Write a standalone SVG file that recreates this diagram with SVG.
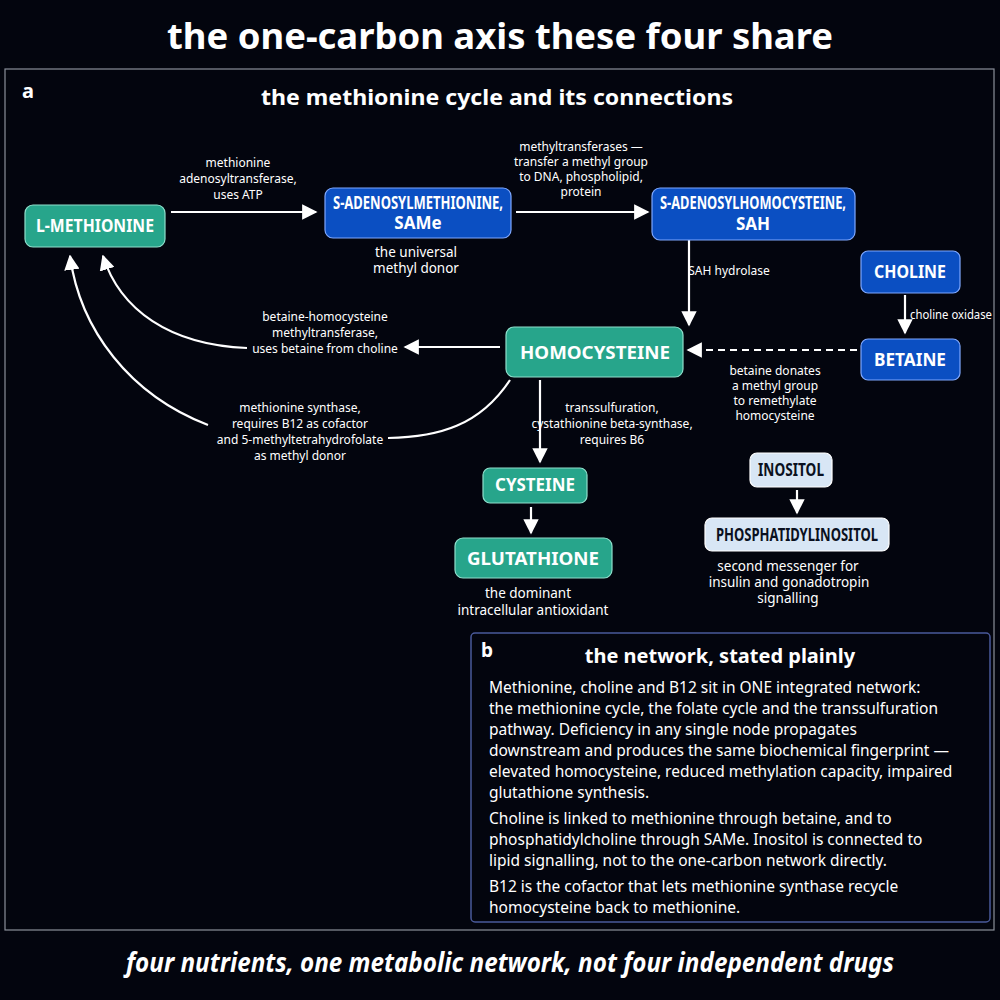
<svg xmlns="http://www.w3.org/2000/svg" width="1000" height="1000" viewBox="0 0 1000 1000">
<defs>
<marker id="ah" viewBox="0 0 10 10" refX="9" refY="5" markerWidth="7" markerHeight="7" orient="auto-start-reverse"><path d="M0,0 L10,5 L0,10 z" fill="#fff"/></marker>
<style>
text{font-family:"Noto Sans","DejaVu Sans",sans-serif;fill:#fff}
.t{font-weight:bold;text-anchor:middle}
.n{font-size:17px;font-weight:bold;text-anchor:middle}
.lb{font-size:12px;text-anchor:middle}
.sub{font-size:13.5px;text-anchor:middle}
.teal{fill:#27a58b;stroke:#8fe0cc;stroke-width:1.2}
.blue{fill:#0b4fc2;stroke:#7fa8ff;stroke-width:1.2}
.light{fill:#d8e6f5;stroke:#fff;stroke-width:1.2}
.c{stroke:#fff;stroke-width:2.2;fill:none;marker-end:url(#ah)}
.b{font-size:15.5px}
</style>
</defs>
<rect width="1000" height="1000" fill="#03050e"/>
<text class="t" x="500" y="49" font-size="35" textLength="666" lengthAdjust="spacingAndGlyphs">the one-carbon axis these four share</text>
<rect x="5" y="69" width="989" height="861" fill="none" stroke="#8a8f9a" stroke-width="1.2"/>
<text x="22" y="98" font-size="20" font-weight="bold">a</text>
<text class="t" x="497" y="105" font-size="22" textLength="472" lengthAdjust="spacingAndGlyphs">the methionine cycle and its connections</text>

<g id="connectors">
<path class="c" d="M171,212 H316"/>
<path class="c" d="M516,212 H648"/>
<path class="c" d="M689,240 V325"/>
<path class="c" d="M905,295 V333"/>
<path class="c" d="M857,350 H688" stroke-dasharray="7,5"/>
<path class="c" d="M500,347 H405"/>
<path class="c" d="M247,348 C170,345 120,310 103,256"/>
<path d="M510,380 C480,425 440,437 388,438" stroke="#fff" stroke-width="2.2" fill="none"/>
<path class="c" d="M208,425 C130,395 80,330 70,256"/>
<path class="c" d="M540,380 V462"/>
<path class="c" d="M531,507 V533"/>
<path class="c" d="M797,490 V513"/>
</g>
<g id="labels">
<text class="lb" x="238" y="167">methionine</text>
<text class="lb" x="238" y="183">adenosyltransferase,</text>
<text class="lb" x="238" y="199">uses ATP</text>
<text class="lb" x="581" y="151">methyltransferases —</text>
<text class="lb" x="581" y="166">transfer a methyl group</text>
<text class="lb" x="581" y="181">to DNA, phospholipid,</text>
<text class="lb" x="581" y="196">protein</text>
<text class="lb" x="729" y="275">SAH hydrolase</text>
<text class="lb" x="951" y="319" textLength="82" lengthAdjust="spacingAndGlyphs">choline oxidase</text>
<text class="lb" x="775" y="375">betaine donates</text>
<text class="lb" x="775" y="390">a methyl group</text>
<text class="lb" x="775" y="405">to remethylate</text>
<text class="lb" x="775" y="420">homocysteine</text>
<text class="lb" x="325" y="321">betaine-homocysteine</text>
<text class="lb" x="325" y="337">methyltransferase,</text>
<text class="lb" x="325" y="353">uses betaine from choline</text>
<text class="lb" x="300" y="412">methionine synthase,</text>
<text class="lb" x="300" y="428">requires B12 as cofactor</text>
<text class="lb" x="300" y="444">and 5-methyltetrahydrofolate</text>
<text class="lb" x="300" y="460">as methyl donor</text>
<text class="lb" x="612" y="412">transsulfuration,</text>
<text class="lb" x="612" y="428">cystathionine beta-synthase,</text>
<text class="lb" x="612" y="444">requires B6</text>
</g>

<g id="lmet"><rect class="teal" x="25" y="205" width="140" height="42" rx="8"/><text class="n" x="95" y="232" textLength="118" lengthAdjust="spacingAndGlyphs">L-METHIONINE</text></g>
<g id="same"><rect class="blue" x="325" y="188" width="186" height="50" rx="8"/><text class="n" x="418" y="209" font-size="14.5" textLength="170" lengthAdjust="spacingAndGlyphs">S-ADENOSYLMETHIONINE,</text><text class="n" x="418" y="229" font-size="14.5">SAMe</text>
<text class="sub" x="416" y="257">the universal</text><text class="sub" x="416" y="273">methyl donor</text></g>
<g id="sah"><rect class="blue" x="652" y="188" width="203" height="52" rx="8"/><text class="n" x="753" y="209" font-size="14.5" textLength="186" lengthAdjust="spacingAndGlyphs">S-ADENOSYLHOMOCYSTEINE,</text><text class="n" x="753" y="230" font-size="14.5">SAH</text></g>
<g id="choline"><rect class="blue" x="861" y="251" width="99" height="42" rx="7"/><text class="n" x="910" y="278" textLength="72" lengthAdjust="spacingAndGlyphs">CHOLINE</text></g>
<g id="betaine"><rect class="blue" x="861" y="339" width="99" height="41" rx="7"/><text class="n" x="910" y="366" textLength="72" lengthAdjust="spacingAndGlyphs">BETAINE</text></g>
<g id="hcy"><rect class="teal" x="506" y="327" width="177" height="50" rx="8"/><text class="n" x="595" y="359" textLength="150" lengthAdjust="spacingAndGlyphs">HOMOCYSTEINE</text></g>
<g id="cys"><rect class="teal" x="483" y="468" width="104" height="35" rx="7"/><text class="n" x="535" y="491" textLength="80" lengthAdjust="spacingAndGlyphs">CYSTEINE</text></g>
<g id="glu"><rect class="teal" x="455" y="538" width="157" height="40" rx="8"/><text class="n" x="533" y="565" font-size="19" textLength="132" lengthAdjust="spacingAndGlyphs">GLUTATHIONE</text>
<text class="sub" x="528" y="598">the dominant</text><text class="sub" x="533" y="615">intracellular antioxidant</text></g>
<g id="inositol"><rect class="light" x="750" y="453" width="82" height="34" rx="7"/><text class="n" x="791" y="476" font-size="15" style="fill:#0a1020" textLength="66" lengthAdjust="spacingAndGlyphs">INOSITOL</text></g>
<g id="pi"><rect class="light" x="705" y="518" width="184" height="33" rx="7"/><text class="n" x="797" y="541" font-size="14.5" style="fill:#0a1020" textLength="162" lengthAdjust="spacingAndGlyphs">PHOSPHATIDYLINOSITOL</text>
<text class="sub" x="788" y="571">second messenger for</text><text class="sub" x="789" y="587">insulin and gonadotropin</text><text class="sub" x="788" y="603">signalling</text></g>

<g id="panel-b">
<rect x="471" y="633" width="519" height="289" rx="4" fill="#03050e" stroke="#4a5a9a" stroke-width="1.5"/>
<text x="481" y="657" font-size="19" font-weight="bold">b</text>
<text class="t" x="720" y="663" font-size="20">the network, stated plainly</text>
<text class="b" x="489" y="693">Methionine, choline and B12 sit in ONE integrated network:</text>
<text class="b" x="489" y="714">the methionine cycle, the folate cycle and the transsulfuration</text>
<text class="b" x="489" y="735">pathway. Deficiency in any single node propagates</text>
<text class="b" x="489" y="756">downstream and produces the same biochemical fingerprint —</text>
<text class="b" x="489" y="777">elevated homocysteine, reduced methylation capacity, impaired</text>
<text class="b" x="489" y="798">glutathione synthesis.</text>
<text class="b" x="489" y="824">Choline is linked to methionine through betaine, and to</text>
<text class="b" x="489" y="845">phosphatidylcholine through SAMe. Inositol is connected to</text>
<text class="b" x="489" y="866">lipid signalling, not to the one-carbon network directly.</text>
<text class="b" x="489" y="892">B12 is the cofactor that lets methionine synthase recycle</text>
<text class="b" x="489" y="913">homocysteine back to methionine.</text>
</g>
<text class="t" x="510" y="972" font-size="27" font-style="italic" textLength="768" lengthAdjust="spacingAndGlyphs">four nutrients, one metabolic network, not four independent drugs</text>
</svg>
